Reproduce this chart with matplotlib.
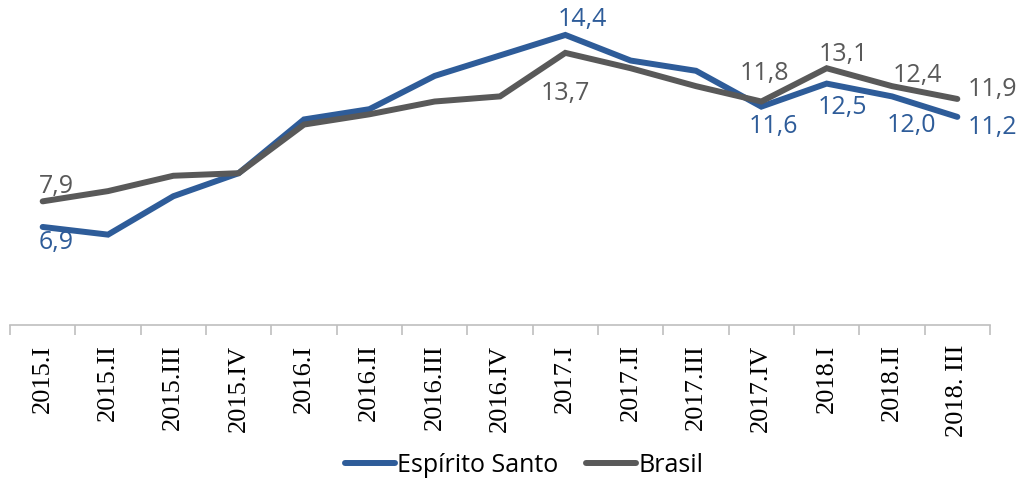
import matplotlib
matplotlib.use("Agg")
import matplotlib.pyplot as plt

# --- Data ---
quarters = ["2015.I", "2015.II", "2015.III", "2015.IV",
            "2016.I", "2016.II", "2016.III", "2016.IV",
            "2017.I", "2017.II", "2017.III", "2017.IV",
            "2018.I", "2018.II", "2018. III"]
espirito_santo = [6.9, 6.6, 8.1, 9.0, 11.1, 11.5, 12.8, 13.6,
                  14.4, 13.4, 13.0, 11.6, 12.5, 12.0, 11.2]
brasil = [7.9, 8.3, 8.9, 9.0, 10.9, 11.3, 11.8, 12.0,
          13.7, 13.1, 12.4, 11.8, 13.1, 12.4, 11.9]

# labelled points: index -> (dx, dy) offset in points
es_labels = {0: (10, -11), 8: (12, 11), 11: (9, -14), 12: (11, -17), 13: (14, -21), 14: (25, -8)}
br_labels = {0: (10, 11), 8: (0, -29), 11: (2, 20), 12: (12, 10), 13: (18, 8), 14: (25, 7)}

ES_COLOR = "#2E5C99"
BR_COLOR = "#595959"
SANS = "Open Sans"
SERIF = "Liberation Serif"

fig = plt.figure(figsize=(10.18, 4.79), dpi=100)
ax = fig.add_axes([10 / 1018, 1 - 325 / 479, 980 / 1018, 320 / 479])

x = list(range(len(quarters)))
ax.plot(x, espirito_santo, color=ES_COLOR, lw=4.3, label="Espírito Santo",
        solid_capstyle="round", solid_joinstyle="miter")
ax.plot(x, brasil, color=BR_COLOR, lw=4.3, label="Brasil",
        solid_capstyle="round", solid_joinstyle="miter")

for i, (dx, dy) in es_labels.items():
    ax.annotate(f"{espirito_santo[i]:.1f}".replace(".", ","), (i, espirito_santo[i]),
                xytext=(dx, dy), textcoords="offset points", ha="center", va="center",
                color=ES_COLOR, fontsize=18, family=SANS)
for i, (dx, dy) in br_labels.items():
    ax.annotate(f"{brasil[i]:.1f}".replace(".", ","), (i, brasil[i]),
                xytext=(dx, dy), textcoords="offset points", ha="center", va="center",
                color=BR_COLOR, fontsize=18, family=SANS)

ax.set_xlim(-0.5, len(quarters) - 0.5)
ax.set_ylim(3.07, 15.57)
ax.set_yticks([])
for s in ["top", "right", "left"]:
    ax.spines[s].set_visible(False)
ax.spines["bottom"].set_color("#BFBFBF")
ax.spines["bottom"].set_linewidth(1.2)

ax.set_xticks([i + 0.5 for i in range(-1, len(quarters))], minor=False)
ax.set_xticklabels([])
ax.tick_params(axis="x", which="major", length=7, color="#BFBFBF", width=1.2)
ax.set_xticks(x, minor=True)
ax.set_xticklabels(quarters, minor=True, rotation=90, family=SERIF, fontsize=19)
ax.tick_params(axis="x", which="minor", length=0, pad=14)

leg = fig.legend(loc="center", bbox_to_anchor=(0.515, 1 - 465 / 479), ncol=2, frameon=False,
                 prop={"family": SANS, "size": 18}, handlelength=2.0, handletextpad=0.1,
                 columnspacing=1.1)

fig.savefig("out.png", dpi=100)
